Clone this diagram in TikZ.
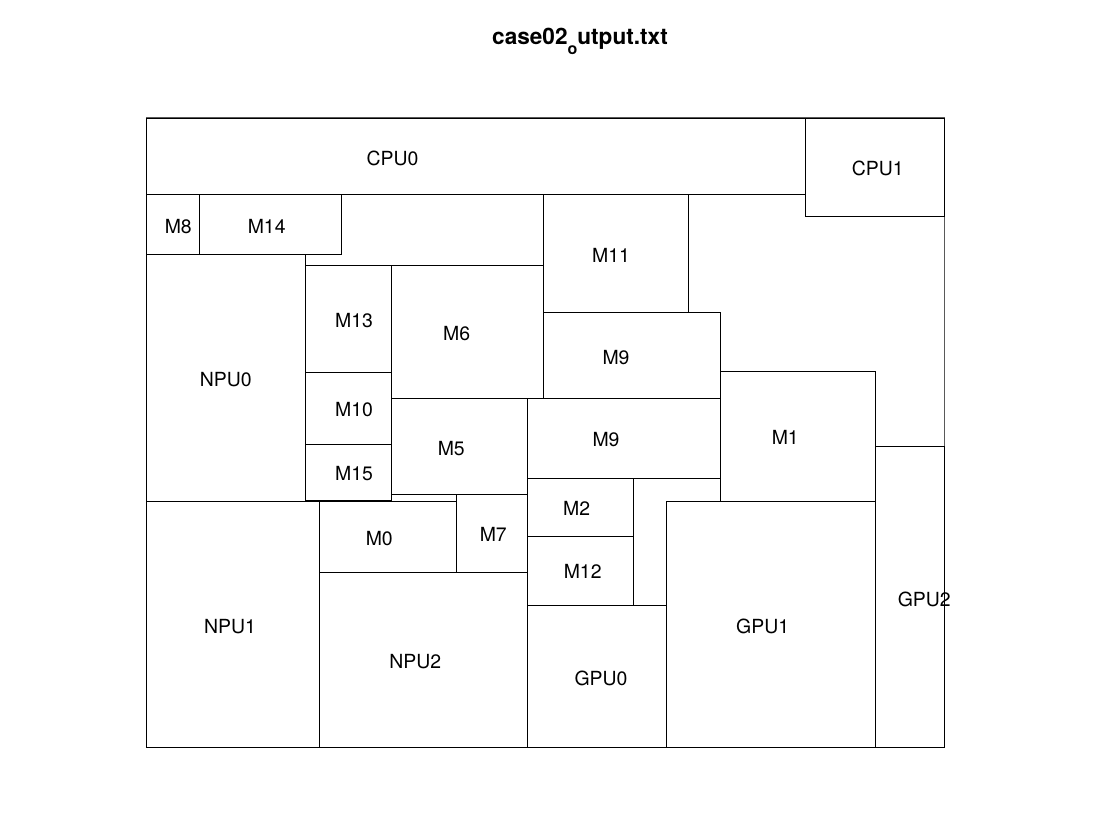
\documentclass[tikz,border=0pt]{standalone}
\usepackage{fontspec}
\setmainfont{TeX Gyre Heros}
\begin{document}
\begin{tikzpicture}[x=1pt,y=-1pt,
  blk/.style={draw=black, line width=0.8pt},
  frame/.style={draw=black!65, line width=1pt},
  lab/.style={font=\fontsize{19.44}{20}\selectfont, inner sep=0pt, anchor=center},
  ttl/.style={font=\bfseries\fontsize{22.6}{24}\selectfont, inner sep=0pt, anchor=base}]
\useasboundingbox (0,0) rectangle (1120,840);
\fill[white] (0,0) rectangle (1120,840);
% outline
\draw[frame] (146,118) rectangle (944,747);
% blocks
\draw[blk] (146,118) rectangle (805.3,194);     % CPU0
\draw[blk] (805.3,118) rectangle (944,216.3);   % CPU1
\draw[blk] (146,194) rectangle (199.3,254.3);   % M8
\draw[blk] (199.3,194) rectangle (341.7,254.3); % M14
\draw[blk] (543.3,194) rectangle (688.3,312);   % M11
\draw[blk] (146,254.3) rectangle (305.7,501);   % NPU0
\draw[blk] (305.7,265.3) rectangle (391.7,372.7); % M13
\draw[blk] (391.7,265.3) rectangle (543.3,398.7); % M6
\draw[blk] (543.3,312) rectangle (720.3,398.7); % M9 (upper)
\draw[blk] (305.7,372.7) rectangle (391.7,444.3); % M10
\draw[blk] (305.7,444.3) rectangle (391.7,500.7); % M15
\draw[blk] (391.7,398.7) rectangle (527.7,494.3); % M5
\draw[blk] (527.7,398.7) rectangle (720.3,478.3); % M9 (lower)
\draw[blk] (720.3,371.3) rectangle (875,501);   % M1
\draw[blk] (527.7,478.3) rectangle (633.3,536); % M2
\draw[blk] (527.7,536) rectangle (633.3,605.3); % M12
\draw[blk] (456.3,494.3) rectangle (527.7,572.7); % M7
\draw[blk] (319.5,501.5) rectangle (456.3,572.7); % M0
\draw[blk] (146,501) rectangle (319.5,747);     % NPU1
\draw[blk] (319.5,572.7) rectangle (527.7,747); % NPU2
\draw[blk] (527.7,605.3) rectangle (666.7,747); % GPU0
\draw[blk] (666.7,501) rectangle (875,747);     % GPU1
\draw[blk] (875,446.3) rectangle (944,747);     % GPU2
% labels
\node[lab] (lcpu0) at (392.5,158.3) {CPU0};
\node[lab] (lcpu1) at (877.7,168.3) {CPU1};
\node[lab] (lm8)   at (178.3,226.7) {M8};
\node[lab] (lm14)  at (266.7,226.7) {M14};
\node[lab] (lm11)  at (611,255.7) {M11};
\node[lab] (lnpu0) at (225.7,379.3) {NPU0};
\node[lab] (lm13)  at (354,320.7) {M13};
\node[lab] (lm6)   at (456.7,333.3) {M6};
\node[lab] (lm9a)  at (616,357.3) {M9};
\node[lab] (lm10)  at (354,410) {M10};
\node[lab] (lm15)  at (354,473.3) {M15};
\node[lab] (lm5)   at (451.3,448.7) {M5};
\node[lab] (lm9b)  at (606,440) {M9};
\node[lab] (lm1)   at (785.3,437.3) {M1};
\node[lab] (lm2)   at (576.7,508.3) {M2};
\node[lab] (lm12)  at (582.7,571.7) {M12};
\node[lab] (lm7)   at (493.3,534) {M7};
\node[lab] (lm0)   at (379.3,538.3) {M0};
\node[lab] (lnpu1) at (230,626.7) {NPU1};
\node[lab] (lnpu2) at (415.3,661.7) {NPU2};
\node[lab] (lgpu0) at (601,678) {GPU0};
\node[lab] (lgpu1) at (762.7,626.7) {GPU1};
\node[lab] (lgpu2) at (924.3,599) {GPU2};
% title
\node[ttl] (title) at (580,45) {case02\raisebox{-10pt}{\fontsize{16}{17}\selectfont o}utput.txt};
\end{tikzpicture}
\end{document}
